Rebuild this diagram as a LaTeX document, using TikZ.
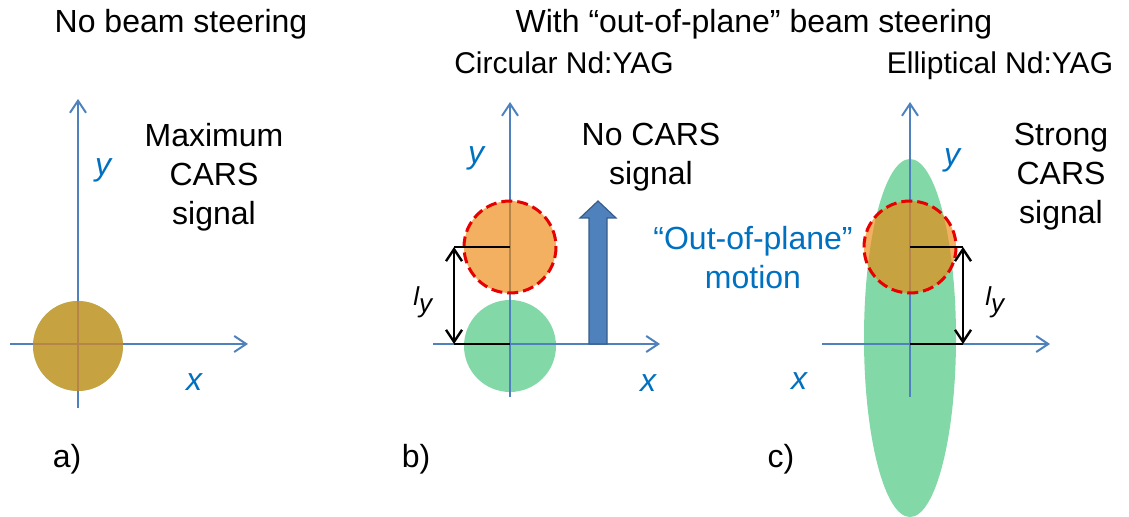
\documentclass[tikz,border=0pt]{standalone}
\usepackage{fontspec}
\setmainfont{Liberation Sans}
\usetikzlibrary{arrows.meta}
\definecolor{axisblue}{RGB}{79,129,189}
\definecolor{textblue}{RGB}{0,112,192}
\definecolor{beamgreen}{RGB}{130,216,166}
\definecolor{beamorange}{RGB}{235,135,14}
\definecolor{rimred}{RGB}{230,0,0}
\definecolor{arrowedge}{RGB}{56,93,138}
\newcommand{\lysym}{{\fontsize{13}{13}\selectfont\itshape l\raisebox{-3.5pt}{y}}}

\begin{document}
\begin{tikzpicture}[x=0.5pt, y=-0.5pt,
	axis/.style={axisblue, line width=1pt, -{Straight Barb[length=6pt,width=8pt]}},
	spotrim/.style={fill=beamorange, fill opacity=0.66, draw=rimred, line width=1.5pt, dash pattern=on 5.5pt off 2.5pt},
	dimline/.style={black, line width=1.2pt},
	txt/.style={inner sep=0pt, font=\fontsize{16}{19.5}\selectfont},
	laser/.style={inner sep=0pt, font=\fontsize{15}{18}\selectfont},
	axlabel/.style={inner sep=0pt, textblue, font=\fontsize{16}{19.5}\selectfont\itshape}]
	\useasboundingbox (0,0) rectangle (1129,517);
	% Tâm các vết chùm tia
	\coordinate (ca) at (78,346);
	\coordinate (cb) at (510,346);
	\coordinate (ob) at (510,247);
	\coordinate (cc) at (910,338);
	\coordinate (oc) at (910,247);
	% Vết chùm xanh (nằm dưới trục)
	\fill[beamgreen] (ca) circle (45);
	\fill[beamgreen] (cb) circle (46);
	\fill[beamgreen] (cc) ellipse [x radius=46, y radius=179];
	% Các trục tọa độ của ba hình
	\foreach \ox/\xl/\xr/\yt/\yb in {78/10/248/99/408, 510/433/660/102/397, 910/822/1050/102/397} {
		\draw[axis] (\xl,344) -- (\xr,344);
		\draw[axis] (\ox,\yb) -- (\ox,\yt);
	}
	% Vết chùm cam (trong suốt, viền đỏ nét đứt)
	\fill[beamorange, fill opacity=0.66] (ca) circle (45);
	\filldraw[spotrim] (ob) circle (46);
	\filldraw[spotrim] (oc) circle (46);
	% Đoạn dịch chuyển l_y
	\coordinate (lbt) at (454,247);
	\coordinate (lbb) at (454,344);
	\coordinate (lct) at (963,247);
	\coordinate (lcb) at (963,344);
	\draw[dimline] (lbt) -- (ob);
	\draw[dimline] (lbb) -- (510,344);
	\draw[dimline, {Straight Barb[length=6pt,width=8pt]}-{Straight Barb[length=6pt,width=8pt]}] (lbt) -- (lbb);
	\draw[dimline] (oc) -- (lct);
	\draw[dimline] (910,344) -- (lcb);
	\draw[dimline, {Straight Barb[length=6pt,width=8pt]}-{Straight Barb[length=6pt,width=8pt]}] (lct) -- (lcb);
	\node[anchor=base west, inner sep=0pt] (lyb) at (413,306) {\lysym};
	\node[anchor=base west, inner sep=0pt] (lyc) at (985,306) {\lysym};
	% Mũi tên khối chỉ chuyển động
	\filldraw[fill=axisblue, draw=arrowedge, line width=0.6pt] (589,344) -- (589,218) -- (580,218) -- (598,201) -- (616,218) -- (607,218) -- (607,344) -- cycle;
	% Nhãn trục
	\node[axlabel, anchor=base] (ya) at (103,176) {y};
	\node[axlabel, anchor=base] (xa) at (194,391) {x};
	\node[axlabel, anchor=base] (yb) at (476,164) {y};
	\node[axlabel, anchor=base] (xb) at (648,392) {x};
	\node[axlabel, anchor=base] (yc) at (952,166) {y};
	\node[axlabel, anchor=base] (xc) at (799,390) {x};
	% Tiêu đề và chú thích
	\node[txt, anchor=base] (titlea) at (181,33) {No beam steering};
	\node[txt, anchor=base] (titlebc) at (754,33) {With “out-of-plane” beam steering};
	\node[laser, anchor=base] (nameb) at (564,74) {Circular Nd:YAG};
	\node[laser, anchor=base] (namec) at (1000,74) {Elliptical Nd:YAG};
	\node[txt, anchor=north, align=center] (notea) at (214,123) {Maximum\\CARS\\signal};
	\node[txt, anchor=north, align=center] (noteb) at (651,123) {No CARS\\signal};
	\node[txt, anchor=north, align=center] (notec) at (1061,123) {Strong\\CARS\\signal};
	\node[txt, textblue, anchor=north, align=center] (motion) at (753,226) {“Out-of-plane”\\motion};
	\node[txt, anchor=base] (taga) at (67,468) {a)};
	\node[txt, anchor=base] (tagb) at (416,468) {b)};
	\node[txt, anchor=base] (tagc) at (781,468) {c)};
\end{tikzpicture}
\end{document}
